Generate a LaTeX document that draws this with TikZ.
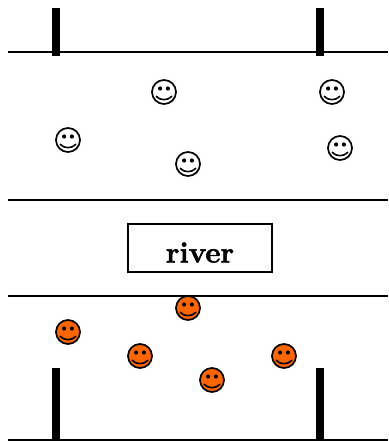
\documentclass[tikz,border=0pt]{standalone}
\tikzset{
  x=1pt,y=-1pt,
  rule/.style={line width=1.6pt,black},
  bar/.style={fill=black,draw=none},
  pics/smiley/.style={code={
    \path[draw=black,line width=1.7pt,fill=#1] (0,0) circle[radius=12];
    \fill[black] (-3.9,-3.5) circle[radius=2.1] (3.9,-3.5) circle[radius=2.1];
    \draw[black,line width=1.6pt,line cap=round] (-7.8,4.3) .. controls (-4,8.8) and (4,8.8) .. (7.8,4.3);
  }}
}
\definecolor{boatorange}{RGB}{255,102,0}
\begin{document}
\begin{tikzpicture}
\useasboundingbox (0,0) rectangle (388,441);
\draw[rule] (8,52) -- (388,52);
\draw[rule] (8,200) -- (388,200);
\draw[rule] (8,296) -- (388,296);
\draw[rule] (8,440) -- (388,440);
\fill[bar] (52,8) rectangle (60,56);
\fill[bar] (316,8) rectangle (324,56);
\fill[bar] (52,368) rectangle (60,440);
\fill[bar] (316,368) rectangle (324,440);
\node[draw=black,line width=1.6pt,minimum width=144pt,minimum height=48pt,inner sep=0pt,outer sep=0pt] (riverbox) at (200,248) {};
\node[anchor=base,inner sep=0pt,font=\fontsize{29.5}{32}\selectfont\bfseries] (rivertext) at (200,262.5) {\special{pdf:literal 2 Tr 0.5 w}river\special{pdf:literal 0 Tr}};
\foreach \px/\py in {164/92,332/92,68/140,188/164,340/148}
  \pic at (\px,\py) {smiley=white};
\foreach \px/\py in {188/308,68/332,140/356,284/356,212/380}
  \pic at (\px,\py) {smiley=boatorange};
\end{tikzpicture}
\end{document}
